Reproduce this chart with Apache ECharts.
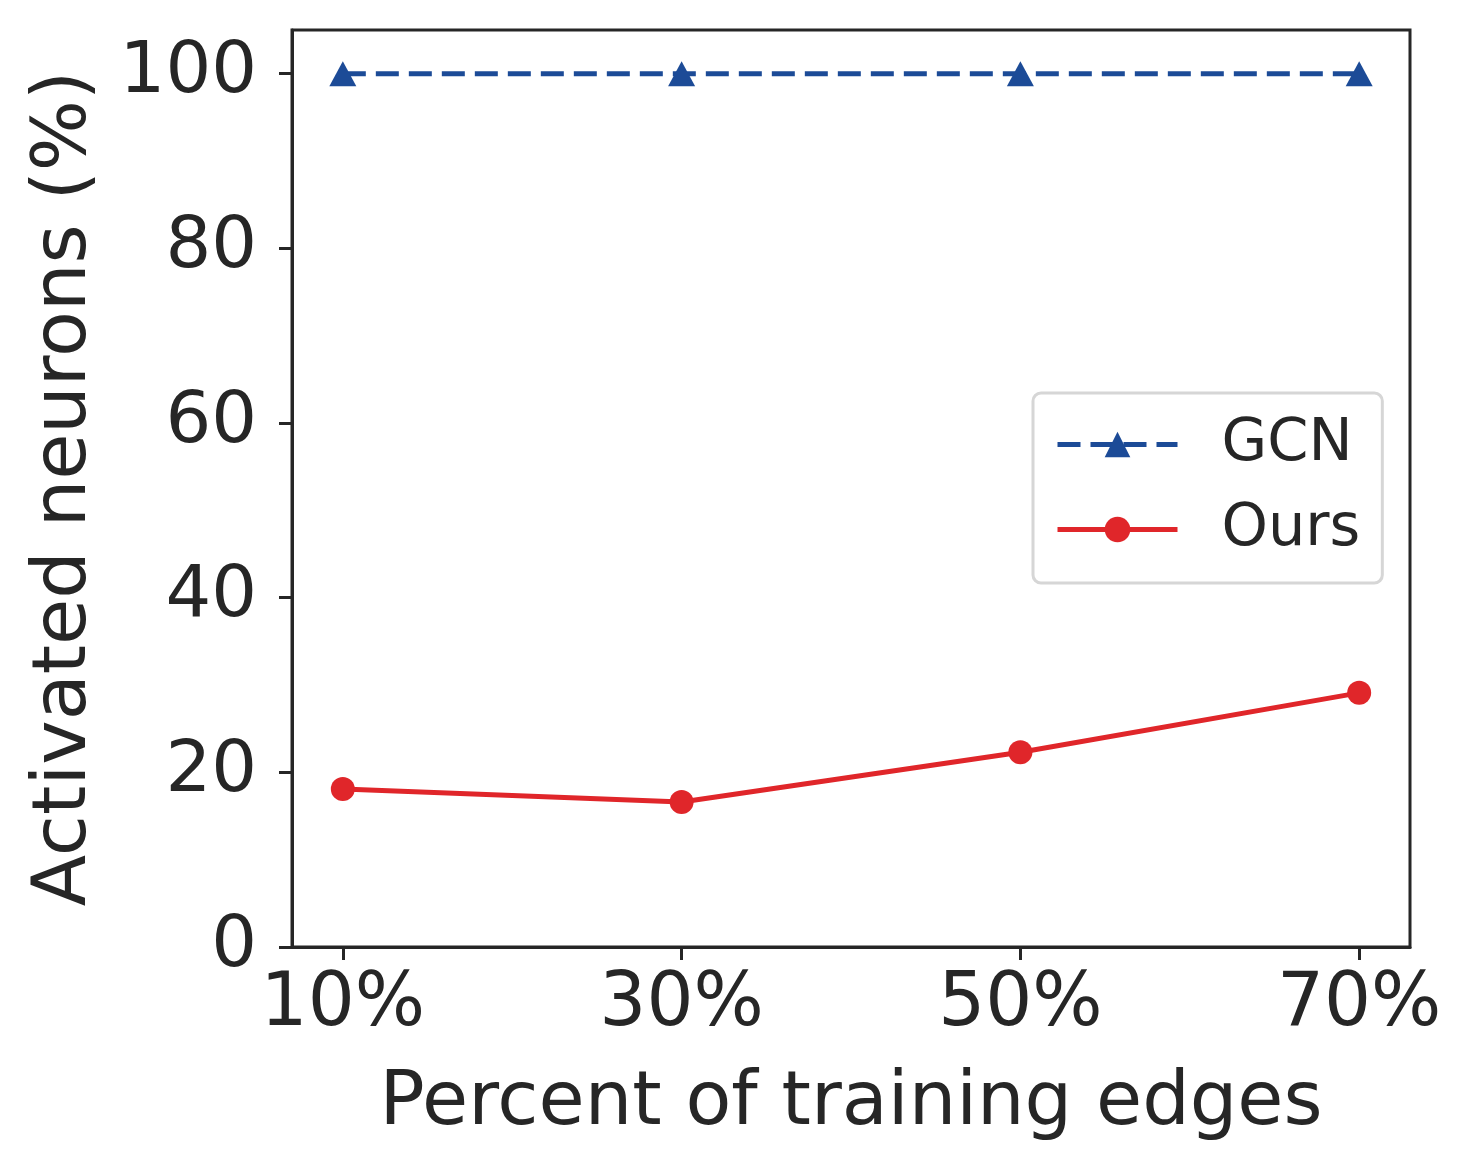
<!DOCTYPE html>
<html>
<head>
<meta charset="utf-8">
<script src="https://cdn.jsdelivr.net/npm/echarts@6/dist/echarts.min.js"></script>
<style>
  html, body { margin: 0; padding: 0; background: #fff; }
  #chart { width: 1472px; height: 1170px; }
</style>
</head>
<body>
<div id="chart"></div>
<script>
// data
var edgePercents = [10, 30, 50, 70];
var gcnValues = [100, 100, 100, 100];
var oursValues = [18.1, 16.6, 22.3, 29.1];
var yTicks = [0, 20, 40, 60, 80, 100];

var textColor = '#262626';
var font = "'DejaVu Sans', sans-serif";

function pairs(xs, ys) {
	var out = [];
	for (var i = 0; i < xs.length; i++) {
		out.push([xs[i], ys[i]]);
	}
	return out;
}

var chart = echarts.init(document.getElementById('chart'));
var option = {
	animation: false,
	backgroundColor: '#fff',
	textStyle: { fontFamily: font, color: textColor },
	grid: {
		left: 292,
		right: 62,
		top: 30,
		bottom: 223,
		show: true,
		borderColor: textColor,
		borderWidth: 3,
		containLabel: false
	},
	legend: {
		orient: 'vertical',
		left: 1033,
		top: 393,
		padding: [22, 22, 24, 22],
		itemGap: 26,
		itemWidth: 120,
		itemHeight: 32,
		backgroundColor: '#fff',
		borderColor: '#d6d6d6',
		borderWidth: 3,
		borderRadius: 8,
		lineStyle: { width: 5 },
		textStyle: { fontSize: 59, color: textColor, fontFamily: font, padding: [0, 0, 0, 39] },
		data: ['GCN', 'Ours']
	},
	xAxis: {
		type: 'value',
		min: 7,
		max: 73,
		name: 'Percent of training edges',
		nameLocation: 'middle',
		nameGap: 120,
		nameTextStyle: { fontSize: 75, color: textColor, fontFamily: font },
		axisLine: { show: true, lineStyle: { color: textColor, width: 3 } },
		axisTick: { show: true, length: 13, lineStyle: { color: textColor, width: 3 }, customValues: edgePercents },
		axisLabel: {
			fontSize: 74, color: textColor, fontFamily: font, margin: 22,
			customValues: edgePercents,
			formatter: '{value}%'
		},
		splitLine: { show: false }
	},
	yAxis: {
		type: 'value',
		min: 0,
		max: 105,
		name: 'Activated neurons (%)',
		nameLocation: 'middle',
		nameGap: 189,
		nameTextStyle: { fontSize: 75, color: textColor, fontFamily: font },
		axisLine: { show: true, lineStyle: { color: textColor, width: 3 } },
		axisTick: { show: true, length: 13, lineStyle: { color: textColor, width: 3 }, customValues: yTicks },
		axisLabel: { fontSize: 72, color: textColor, fontFamily: font, margin: 35, customValues: yTicks },
		splitLine: { show: false }
	},
	series: [{
		name: 'GCN',
		type: 'line',
		data: pairs(edgePercents, gcnValues),
		symbol: 'triangle',
		symbolSize: [27, 25],
		itemStyle: { color: '#1c4b97' },
		lineStyle: { color: '#1c4b97', width: 5, type: [23, 10] },
		z: 3
	}, {
		name: 'Ours',
		type: 'line',
		data: pairs(edgePercents, oursValues),
		symbol: 'circle',
		symbolSize: 24,
		itemStyle: { color: '#e0262a' },
		lineStyle: { color: '#e0262a', width: 5 },
		z: 3
	}]
};
chart.setOption(option);
</script>
</body>
</html>
